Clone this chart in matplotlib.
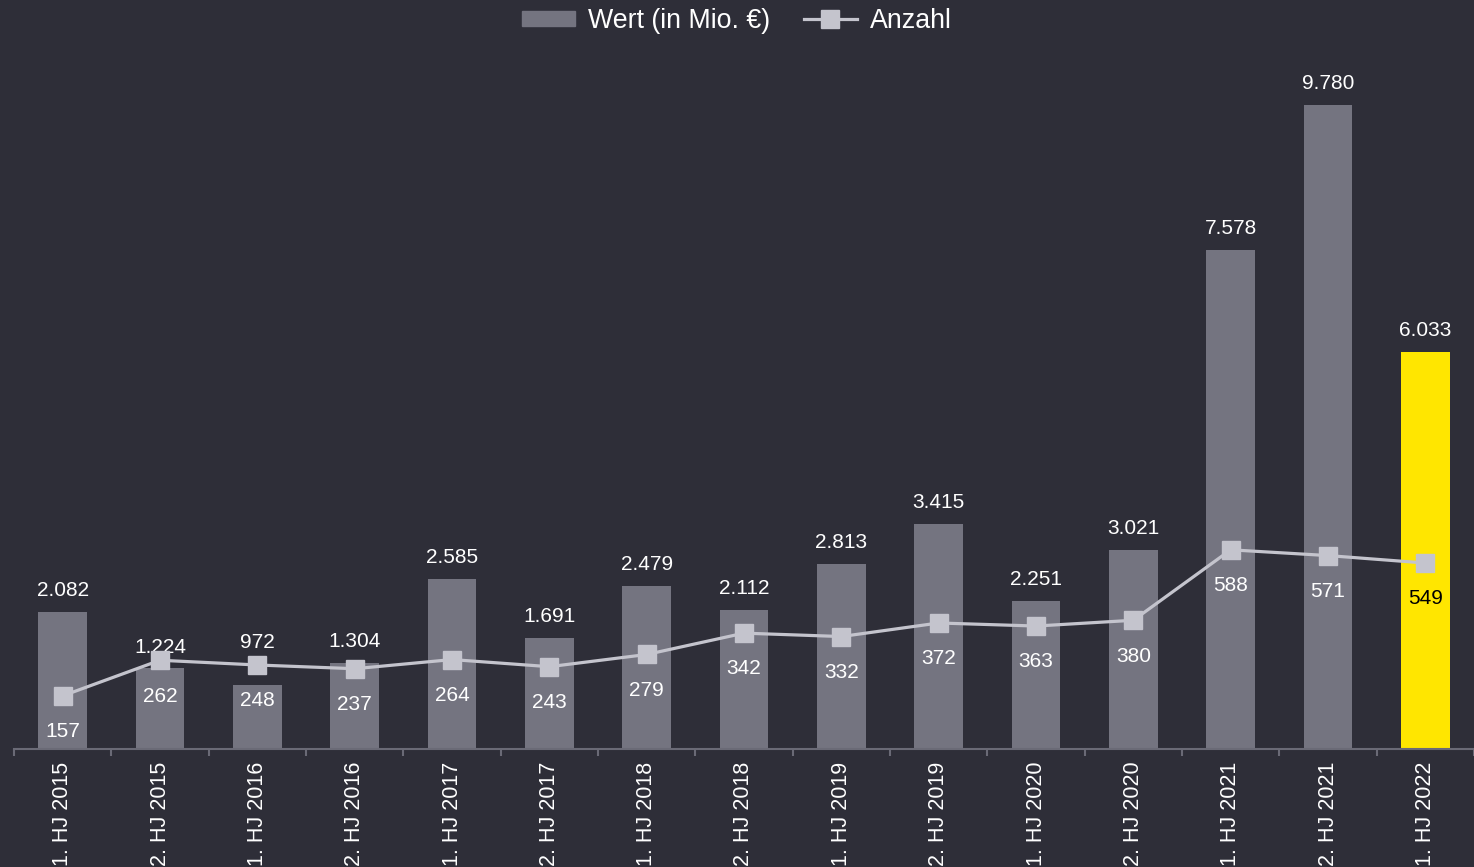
import matplotlib
matplotlib.use("Agg")
import matplotlib.pyplot as plt
from matplotlib.patches import Patch
from matplotlib.lines import Line2D

categories = ["1. HJ 2015", "2. HJ 2015", "1. HJ 2016", "2. HJ 2016", "1. HJ 2017",
              "2. HJ 2017", "1. HJ 2018", "2. HJ 2018", "1. HJ 2019", "2. HJ 2019",
              "1. HJ 2020", "2. HJ 2020", "1. HJ 2021", "2. HJ 2021", "1. HJ 2022"]
wert = [2082, 1224, 972, 1304, 2585, 1691, 2479, 2112, 2813, 3415, 2251, 3021, 7578, 9780, 6033]
anzahl = [157, 262, 248, 237, 264, 243, 279, 342, 332, 372, 363, 380, 588, 571, 549]

BG = "#2e2e38"
GRAY = "#747480"
LIGHT = "#c4c4cd"
YELLOW = "#ffe600"

plt.rcParams['font.family'] = ['Liberation Sans', 'DejaVu Sans']

W, H = 1474, 867
fig = plt.figure(figsize=(W / 100, H / 100), dpi=100, facecolor=BG)
left, right, bottom, top = 14, 1474, 749, 40
ax_h = bottom - top
ax = fig.add_axes([left / W, (H - bottom) / H, (right - left) / W, ax_h / H])
ax.set_facecolor(BG)

Y1MAX, Y2MAX = 10767, 2093
x = list(range(len(categories)))
colors = [GRAY] * (len(categories) - 1) + [YELLOW]
ax.bar(x, wert, width=0.5, color=colors, zorder=2)
ax.set_xlim(-0.5, len(categories) - 0.5)
ax.set_ylim(0, Y1MAX)

ax2 = ax.twinx()
ax2.patch.set_visible(False)
ax2.set_ylim(0, Y2MAX)

def fmt(v):
    return f"{v:,}".replace(",", ".")

for xi, v, n in zip(x, wert, anzahl):
    bar_px = v / Y1MAX * ax_h
    mk_px = n / Y2MAX * ax_h
    if mk_px > bar_px + 10:
        ax2.annotate(fmt(v), (xi, n), xytext=(0, 16), textcoords="offset points",
                     ha="center", va="center", color="white", fontsize=15, zorder=5)
    else:
        ax.annotate(fmt(v), (xi, v), xytext=(0, 15.3), textcoords="offset points",
                    ha="center", va="center", color="white", fontsize=15, zorder=5)

for s in ["top", "right", "left"]:
    ax.spines[s].set_visible(False)
ax.spines["bottom"].set_color("#6a6a76")
ax.spines["bottom"].set_linewidth(1.5)
ax.set_yticks([])
ax.set_xticks(x)
ax.set_xticklabels(categories, rotation=90, color="white", fontsize=15.5, va="top", ha="center")
ax.tick_params(axis="x", which="major", length=0, pad=9)
ax.set_xticks([i - 0.5 for i in range(len(categories) + 1)], minor=True)
ax.tick_params(axis="x", which="minor", length=5, width=1.5, color="#6a6a76", direction="out")

ax2.plot(x, anzahl, color=LIGHT, linewidth=2.3, marker="s", markersize=13,
         markerfacecolor=LIGHT, markeredgecolor=LIGHT, zorder=4)
for i, (xi, v) in enumerate(zip(x, anzahl)):
    c = "black" if i == len(x) - 1 else "white"
    ax2.annotate(str(v), (xi, v), xytext=(0, -25.8), textcoords="offset points",
                 ha="center", va="center", color=c, fontsize=15, zorder=5)
for s in ax2.spines.values():
    s.set_visible(False)
ax2.set_yticks([])

handles = [Patch(facecolor=GRAY, edgecolor=GRAY),
           Line2D([0], [0], color=LIGHT, linewidth=2.3, marker="s", markersize=13,
                  markerfacecolor=LIGHT, markeredgecolor=LIGHT)]
leg = fig.legend(handles, ["Wert (in Mio. €)", "Anzahl"], loc="center",
                 bbox_to_anchor=(0.5, 1 - 21 / H), ncol=2, frameon=False, fontsize=19.3,
                 handlelength=1.97, handleheight=0.53, handletextpad=0.5, columnspacing=1.25,
                 borderpad=0)
for t in leg.get_texts():
    t.set_color("white")

fig.savefig("out.png", dpi=100, facecolor=BG)
